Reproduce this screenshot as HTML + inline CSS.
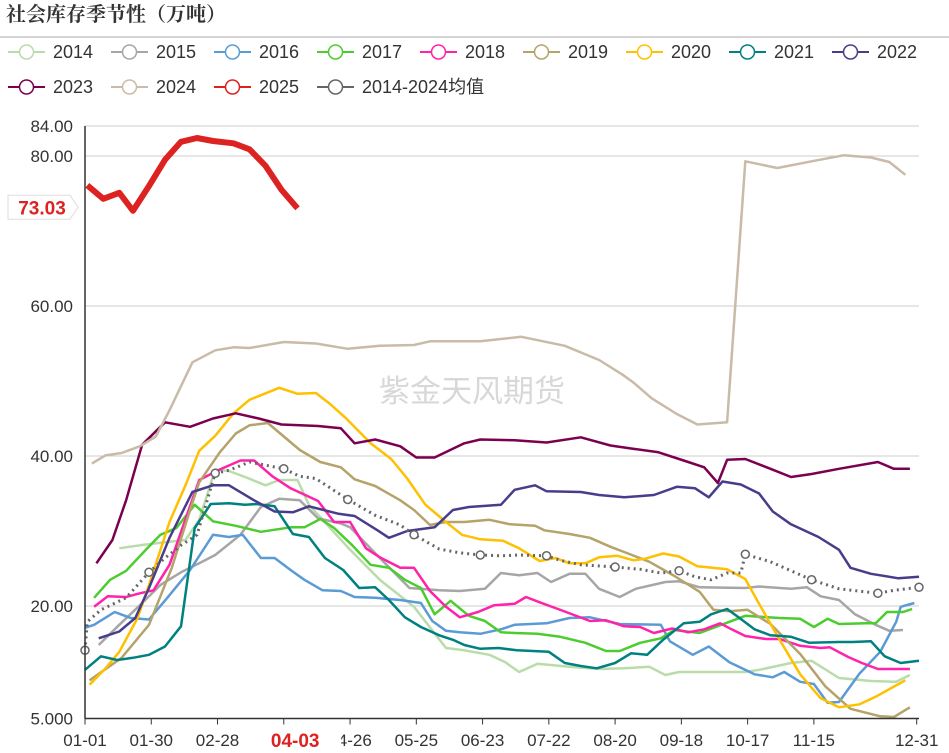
<!DOCTYPE html>
<html><head><meta charset="utf-8"><style>
body{margin:0;background:#fff;width:949px;height:753px;overflow:hidden;font-family:"Liberation Sans","Noto Sans CJK SC",sans-serif}
svg{display:block}
</style></head><body>
<svg id="chart" width="949" height="753" viewBox="0 0 949 753" xmlns="http://www.w3.org/2000/svg">
<text x="6" y="21" font-size="20" font-weight="bold" fill="#333" font-family="'Noto Serif CJK SC',serif">社会库存季节性（万吨）</text>
<line x1="0" y1="37" x2="949" y2="37" stroke="#aaa" stroke-width="1"/>
<text x="472" y="402" font-size="31" fill="#d8d8d8" text-anchor="middle" font-family="'Noto Sans CJK SC',sans-serif">紫金天风期货</text>
<g id="grid"></g><g id="series"></g><g id="axes"></g><g id="legend"></g>
</svg>
<script>
const yTicks=[5,20,40,60,80,84];
const yTickLabels=["5.000","20.00","40.00","60.00","80.00","84.00"];
const xTickDays=[0,29,58,87,116,145,174,203,232,261,290,319,364];
const xTickLabels=["01-01","01-30","02-28","03-29","04-26","05-25","06-23","07-22","08-20","09-18","10-17","11-15","12-31"];
const pointerDay=92;
const pointerLabel="04-03";
const seriesNames=["2014","2015","2016","2017","2018","2019","2020","2021","2022","2023","2024","2025","2014-2024均值"];
const seriesColors=["#b9dcaa","#a6a6a6","#5b9bd5","#4ccc2e","#ff22aa","#b5a36a","#ffc000","#008080","#483d8b","#7b0050","#c9bba7","#dd2222","#666666"];
const s2014=[[15,27.7],[24,28.1],[35,28.5],[44,28.8],[50,31.5],[57,38.2],[63,38],[71,37.1],[79,36.1],[85,36.8],[93,36.8],[98,33.5],[116,27.5],[129,23.5],[144,19.9],[158,14.4],[166,14.1],[177,13.5],[184,12.5],[190,11.2],[198,12.3],[212,11.9],[225,11.6],[236,11.7],[247,11.9],[254,10.8],[260,11.2],[278,11.2],[289,11.2],[295,11.5],[309,12.4],[318,12.7],[330,10.4],[344,10],[355,9.9],[361,10.8]];
const s2015=[[6,14.8],[15,17.5],[24,20.1],[33,22.8],[42,24.5],[50,25.7],[57,26.8],[68,29.5],[77,33.2],[85,34.3],[94,34.1],[102,31.7],[112,31],[116,30.5],[129,26.4],[142,22.4],[155,22.1],[164,22],[175,22.3],[182,24.4],[190,24.1],[198,24.4],[204,23.2],[212,24.3],[219,24.3],[225,22.3],[234,21.2],[241,22.3],[254,23.2],[260,23.3],[269,22.5],[289,22.4],[295,22.6],[309,22.3],[316,22.5],[322,21.3],[330,20.8],[337,18.9],[346,17.5],[352,16.7],[358,16.8]];
const s2016=[[0,17.1],[4,17.5],[13,19.2],[20,18.4],[28,18.2],[36,21.1],[46,24.8],[56,29.5],[63,29.2],[69,29.5],[77,26.4],[83,26.4],[90,24.8],[96,23.5],[104,22.1],[112,22],[118,21.2],[127,21.1],[138,20.8],[147,20.4],[152,18],[158,16.7],[164,16.5],[173,16.3],[182,16.9],[188,17.5],[195,17.6],[202,17.7],[212,18.4],[221,18.5],[234,17.6],[252,17.5],[256,15.3],[266,13.5],[273,14.6],[282,12.5],[293,10.9],[301,10.5],[306,11.2],[313,9.9],[319,9.6],[325,7.1],[330,7.2],[339,11],[348,13.9],[355,17.9],[357,19.9],[363,20.4]];
const s2017=[[4,21.1],[11,23.5],[18,24.7],[26,27.3],[33,29.5],[40,30.4],[48,33.5],[56,31.3],[66,30.7],[77,29.9],[90,30.5],[96,30.5],[103,31.6],[109,30.4],[117,28.1],[125,25.5],[133,25.1],[140,23.5],[147,22.4],[153,18.9],[160,20.7],[168,18.7],[175,18],[182,16.5],[188,16.4],[198,16.3],[208,15.9],[219,15.1],[228,14],[234,14],[243,15.1],[252,15.7],[258,16.8],[269,16.4],[282,17.9],[289,18.7],[304,18.4],[313,18.3],[319,17.2],[325,18.3],[330,17.6],[342,17.7],[346,17.7],[351,19.2],[358,19.2],[362,19.6]];
const s2018=[[4,19.9],[10,21.3],[18,21.2],[24,21.7],[30,22.1],[37,25.5],[50,36.8],[59,38.2],[68,39.4],[74,39.4],[82,37.3],[90,35.7],[102,34],[109,31.2],[116,31.2],[123,27.7],[129,26.5],[138,25.1],[144,25.1],[151,22],[158,19.9],[164,18.5],[172,19.2],[179,20.1],[188,20.3],[193,21.2],[199,20.5],[207,19.6],[214,18.8],[221,18],[228,18.1],[236,17.3],[243,17.2],[249,16.4],[257,17],[264,16.5],[271,16.9],[278,17.7],[283,16.9],[289,16],[298,15.6],[304,15.6],[313,14.7],[322,14.4],[326,14.5],[334,13.2],[340,12.4],[347,11.6],[361,11.6]];
const s2019=[[2,10.1],[16,13.1],[28,17.5],[38,25.1],[46,32.8],[50,36.5],[59,40.5],[66,43],[72,44.1],[80,44.4],[94,40.8],[103,39.2],[112,38.5],[118,36.9],[127,36],[138,34.1],[144,32.8],[151,30.8],[158,31.2],[166,31.2],[177,31.5],[186,30.9],[197,30.7],[201,30.1],[212,29.6],[221,29.1],[230,27.9],[236,27.2],[247,25.9],[258,24],[269,21.9],[275,19.5],[282,19.3],[290,19.5],[300,17.6],[313,13.6],[324,9.3],[335,6.3],[348,5.3],[354,5.2],[361,6.5]];
const s2020=[[2,9.5],[9,11.7],[15,13.9],[23,18.4],[28,22.8],[37,31.2],[44,36.1],[50,40.7],[57,42.7],[65,45.7],[72,47.5],[85,49.1],[93,48.3],[101,48.4],[107,47],[114,45.1],[125,41.7],[134,39.6],[141,37],[149,33.5],[158,31.2],[165,29.5],[173,28.9],[183,28.7],[190,27.7],[199,26],[206,26.4],[212,25.7],[219,25.7],[225,26.5],[233,26.7],[240,26.1],[245,26.3],[253,27],[260,26.6],[268,25.3],[281,24.9],[289,23.6],[295,20.3],[304,15.5],[313,10.9],[322,7.7],[330,6.5],[339,6.9],[346,7.9],[359,10.1]];
const s2021=[[0,11.5],[7,13.3],[14,12.8],[21,13.1],[28,13.5],[35,14.6],[42,17.3],[48,30.4],[55,33.6],[63,33.7],[70,33.5],[75,33.6],[83,33.3],[91,29.6],[98,29.2],[105,26.4],[113,24.8],[120,22.4],[127,22.5],[133,20.8],[140,18.5],[147,17.2],[155,16.1],[161,15.5],[166,14.8],[173,14.3],[181,14.4],[189,14.1],[196,14],[203,13.9],[210,12.4],[217,12],[224,11.7],[232,12.4],[239,13.7],[246,13.5],[253,15.5],[262,17.7],[269,17.9],[274,18.9],[281,19.6],[286,18.5],[293,16.9],[300,16.1],[309,15.9],[317,15.1],[330,15.2],[336,15.2],[344,15.3],[350,13.3],[357,12.4],[365,12.7]];
const s2022=[[6,15.7],[15,16.6],[22,18.4],[28,22.4],[37,29.1],[47,35.2],[56,36.1],[63,36.1],[74,34.1],[83,32.6],[91,32.5],[98,33.3],[111,32.3],[118,32],[128,30.1],[133,29.1],[141,30],[153,30.5],[161,32.8],[168,33.2],[182,33.5],[188,35.5],[197,36.1],[202,35.3],[217,35.2],[225,34.8],[236,34.5],[249,34.8],[259,35.9],[267,35.7],[273,34.5],[279,36.6],[287,36.2],[295,35],[301,32.6],[309,30.9],[321,29.2],[330,27.5],[335,25.1],[344,24.3],[356,23.7],[365,23.9]];
const s2023=[[5,25.7],[12,28.8],[18,34.1],[25,41.5],[35,44.5],[46,43.9],[56,45],[66,45.7],[76,45],[86,44.2],[102,44],[112,43.7],[118,41.7],[127,42.2],[138,41.3],[145,39.8],[153,39.8],[166,41.7],[173,42.2],[188,42.1],[202,41.8],[217,42.5],[230,41.4],[239,41],[251,40.5],[264,39.2],[271,38.5],[277,36.4],[281,39.5],[289,39.6],[300,38.3],[309,37.2],[318,37.6],[330,38.3],[347,39.2],[354,38.3],[361,38.3]];
const s2024=[[3,39],[9,40.1],[16,40.4],[24,41.3],[31,42.6],[37,46.1],[47,52.5],[57,54.1],[65,54.5],[72,54.4],[87,55.2],[101,55],[115,54.3],[129,54.7],[144,54.8],[151,55.3],[173,55.3],[191,55.9],[210,54.7],[225,52.8],[235,50.9],[240,49.8],[248,47.7],[259,45.6],[268,44.2],[281,44.5],[289,79.3],[303,78.4],[318,79.3],[332,80.1],[344,79.8],[352,79.2],[359,77.5]];
const s2025=[[1,76.1],[8,74.3],[15,75.1],[21,72.7],[28,76],[35,79.5],[42,81.9],[49,82.4],[56,82],[65,81.7],[72,80.9],[79,78.7],[86,75.5],[93,73.03]];
const sMean=[[0,14.1],[1,17.9],[7,19.5],[18,21.1],[28,24.5],[35,26.4],[42,28.1],[49,29.5],[57,37.7],[63,38.1],[72,39.2],[87,38.3],[94,37.3],[101,37],[115,34.2],[127,32.1],[138,30.8],[144,29.5],[155,27.6],[164,27.1],[173,26.8],[182,26.7],[190,26.8],[202,26.7],[208,26.1],[217,25.5],[232,25.2],[243,24.9],[252,24.4],[260,24.7],[267,23.9],[274,23.5],[281,24.4],[287,24.4],[289,26.9],[300,25.9],[318,23.5],[330,22.3],[347,21.7],[354,22.1],[365,22.5]];
const allSeries=[s2014,s2015,s2016,s2017,s2018,s2019,s2020,s2021,s2022,s2023,s2024,s2025,sMean];
const lastValue=73.03;

const NS="http://www.w3.org/2000/svg";
const X0=85,X1=919,Y5=718.5;
function xs(d){return X0+d*(X1-X0)/365;}
function ys(v){return Y5-(v-5)*7.5;}
function mk(tag,attrs,parent){const e=document.createElementNS(NS,tag);for(const k in attrs)e.setAttribute(k,attrs[k]);parent.appendChild(e);return e;}
const grid=document.getElementById('grid'),axes=document.getElementById('axes'),ser=document.getElementById('series'),leg=document.getElementById('legend');
yTicks.forEach((v,i)=>{
  if(v>5){const g=mk('line',{x1:X0,x2:X1,y1:ys(v),y2:ys(v),stroke:'#ccc','stroke-width':1},grid);
  
  }
  const t=mk('text',{x:73,y:ys(v)+6,'text-anchor':'end','font-size':17,fill:'#333'},axes);
  
  
  t.textContent=yTickLabels[i];
});
const ya=mk('line',{x1:X0,x2:X0,y1:ys(84),y2:Y5,stroke:'#333','stroke-width':1.5},axes);


const xa=mk('line',{x1:X0,x2:X1,y1:Y5,y2:Y5,stroke:'#333','stroke-width':1.5},axes);


xTickDays.forEach((d,i)=>{
  const tk=mk('line',{x1:xs(d),x2:xs(d),y1:Y5,y2:Y5+6,stroke:'#333','stroke-width':1},axes);
  
  
  const t=mk('text',{x:xs(d),y:746,'text-anchor':'middle','font-size':17,fill:'#333'},axes);
  
  
  t.textContent=xTickLabels[i];
});
const pg=mk('g',{},axes);


mk('rect',{x:xs(pointerDay)-38,y:726,width:84,height:27,fill:'#fff'},pg);
const pt=mk('text',{x:xs(pointerDay),y:747,'text-anchor':'middle','font-size':19,'font-weight':'bold',fill:'#dd2222'},pg);
pt.textContent=pointerLabel;

const markerDays=[0,29,58,87,116,145,174,203,232,261,290,319,348,365];
allSeries.forEach((s,si)=>{
  const isMean=si===12,is25=si===11;
  const p=mk('polyline',{points:s.map(q=>xs(q[0]).toFixed(1)+','+ys(q[1]).toFixed(1)).join(' '),fill:'none',stroke:seriesColors[si],'stroke-width':is25?6:(isMean?3:2.5),'stroke-dasharray':isMean?'2,4':'none','stroke-linejoin':'round'},ser);
  
  
  if(isMean){
    markerDays.forEach(md=>{
      let best=s[0];s.forEach(q=>{if(Math.abs(q[0]-md)<Math.abs(best[0]-md))best=q;});
      if(Math.abs(best[0]-md)<8){const c=mk('circle',{cx:xs(best[0]),cy:ys(best[1]),r:4,fill:'#fff',stroke:seriesColors[si],'stroke-width':1.5},ser);
      
      }
    });
  }
});
const lv=mk('g',{},axes);


const ly=ys(lastValue)-1;
mk('path',{d:`M8,${ly-12}H70L78,${ly}L70,${ly+12}H8Z`,fill:'#fff',stroke:'#ddd','stroke-width':1},lv);
const lt=mk('text',{x:42,y:ly+7,'text-anchor':'middle','font-size':19,'font-weight':'bold',fill:'#dd2222'},lv);
lt.textContent=lastValue.toFixed(2);
seriesNames.forEach((n,i)=>{
  const row=i<9?0:1,col=i<9?i:i-9;
  const x=8+col*103,y=row===0?52:87;
  const g=mk('g',{},leg);
  
  
  mk('line',{x1:x,x2:x+37,y1:y,y2:y,stroke:seriesColors[i],'stroke-width':2},g);
  mk('circle',{cx:x+18.5,cy:y,r:7,fill:'#fff',stroke:seriesColors[i],'stroke-width':1.5},g);
  const t=mk('text',{x:x+45,y:y+6,'font-size':18,fill:'#333'},g);
  t.textContent=n;
});
</script>
</body></html>
